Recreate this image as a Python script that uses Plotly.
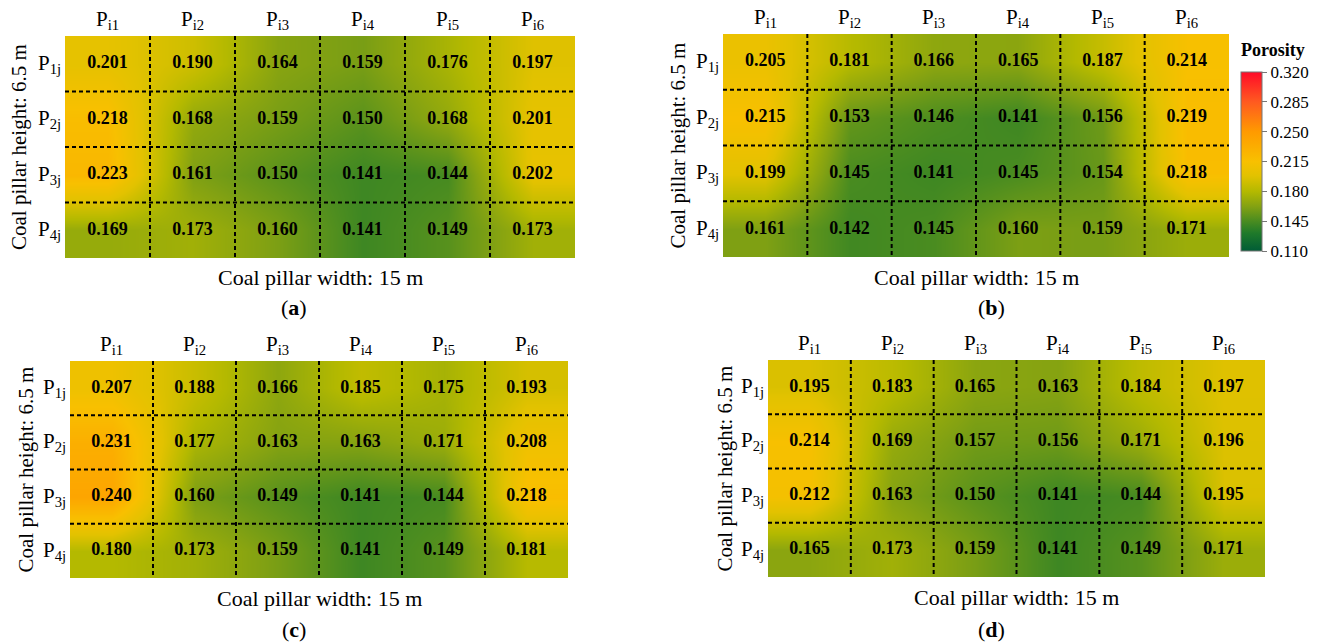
import plotly.graph_objects as go

W, H = 1320, 643

col_labels = ["P<sub>i1</sub>", "P<sub>i2</sub>", "P<sub>i3</sub>", "P<sub>i4</sub>", "P<sub>i5</sub>", "P<sub>i6</sub>"]
row_labels = ["P<sub>1j</sub>", "P<sub>2j</sub>", "P<sub>3j</sub>", "P<sub>4j</sub>"]

poro_a = [[0.201, 0.190, 0.164, 0.159, 0.176, 0.197],
          [0.218, 0.168, 0.159, 0.150, 0.168, 0.201],
          [0.223, 0.161, 0.150, 0.141, 0.144, 0.202],
          [0.169, 0.173, 0.160, 0.141, 0.149, 0.173]]
poro_b = [[0.205, 0.181, 0.166, 0.165, 0.187, 0.214],
          [0.215, 0.153, 0.146, 0.141, 0.156, 0.219],
          [0.199, 0.145, 0.141, 0.145, 0.154, 0.218],
          [0.161, 0.142, 0.145, 0.160, 0.159, 0.171]]
poro_c = [[0.207, 0.188, 0.166, 0.185, 0.175, 0.193],
          [0.231, 0.177, 0.163, 0.163, 0.171, 0.208],
          [0.240, 0.160, 0.149, 0.141, 0.144, 0.218],
          [0.180, 0.173, 0.159, 0.141, 0.149, 0.181]]
poro_d = [[0.195, 0.183, 0.165, 0.163, 0.184, 0.197],
          [0.214, 0.169, 0.157, 0.156, 0.171, 0.196],
          [0.212, 0.163, 0.150, 0.141, 0.144, 0.195],
          [0.165, 0.173, 0.159, 0.141, 0.149, 0.171]]

cbar_ticks = [0.110, 0.145, 0.180, 0.215, 0.250, 0.285, 0.320]
panel_letters = ["a", "b", "c", "d"]
x_title = "Coal pillar width: 15 m"
y_title = "Coal pillar height: 6.5 m"
cbar_title = "Porosity"

# layout in pixels: (left, right, top, bottom)
panels = [
    dict(data=poro_a, box=(65, 575, 36, 258), ytx=19, xt_y=278, lab=(294, 307), rowx=63),
    dict(data=poro_b, box=(723, 1229, 34, 257), ytx=677, xt_y=277, lab=(992, 307), rowx=721),
    dict(data=poro_c, box=(70, 568, 361, 578), ytx=25, xt_y=598, lab=(294, 629), rowx=68),
    dict(data=poro_d, box=(768, 1265, 360, 577), ytx=724, xt_y=597, lab=(992, 629), rowx=766),
]

colorscale = [
    [0.0, '#005c36'], [0.1, '#1f7a2a'], [0.167, '#4a8c20'], [0.25, '#84a212'],
    [0.333, '#b4b900'], [0.42, '#e2c200'], [0.5, '#f8c000'], [0.667, '#ff9a00'],
    [0.833, '#ff5a20'], [1.0, '#ff0a28']
]

FONT = "Liberation Serif"
fig = go.Figure()
annotations = []
shapes = []

def px(x):
    return x / W

def py(y):
    return 1 - y / H

for i, p in enumerate(panels):
    n = "" if i == 0 else str(i + 1)
    xa, ya = "x" + n, "y" + n
    l, r, t, b = p["box"]
    z = p["data"]
    ncol = len(col_labels)
    nrow = len(row_labels)
    xs = list(range(ncol))
    ys = list(range(nrow))
    fig.add_trace(go.Heatmap(z=z, x=xs, y=ys, coloraxis="coloraxis", zsmooth="best",
                             xaxis=xa, yaxis=ya, hoverinfo="skip"))
    tx, ty, tt = [], [], []
    for rr in ys:
        for cc in xs:
            tx.append(cc)
            ty.append(rr)
            tt.append("<b>%.3f</b>" % z[rr][cc])
    fig.add_trace(go.Scatter(x=tx, y=ty, text=tt, mode="text", xaxis=xa, yaxis=ya,
                             textfont=dict(family=FONT, size=18, color="black"),
                             hoverinfo="skip", showlegend=False))
    lay_x = "xaxis" + n
    lay_y = "yaxis" + n
    fig.layout[lay_x] = dict(domain=[px(l), px(r)], range=[-0.5, ncol - 0.5], anchor=ya,
                             showgrid=False, zeroline=False, showticklabels=False, ticks="")
    fig.layout[lay_y] = dict(domain=[py(b), py(t)], range=[nrow - 0.5, -0.5], anchor=xa,
                             showgrid=False, zeroline=False, showticklabels=False, ticks="")
    # dashed grid lines
    for k in range(1, ncol):
        shapes.append(dict(type="line", xref=xa, yref=ya, x0=k - 0.5, x1=k - 0.5,
                           y0=-0.5, y1=nrow - 0.5, line=dict(color="black", width=2, dash="4px,3px")))
    for k in range(1, nrow):
        shapes.append(dict(type="line", xref=xa, yref=ya, y0=k - 0.5, y1=k - 0.5,
                           x0=-0.5, x1=ncol - 0.5, line=dict(color="black", width=2, dash="4px,3px")))
    # column labels
    for cc, lab in enumerate(col_labels):
        annotations.append(dict(x=cc, y=py(t - 1), xref=xa, yref="paper", text=lab,
                                showarrow=False, xanchor="center", yanchor="bottom",
                                font=dict(family=FONT, size=21, color="black")))
    # row labels
    for rr, lab in enumerate(row_labels):
        annotations.append(dict(x=px(p["rowx"]), y=rr, xref="paper", yref=ya, text=lab,
                                showarrow=False, xanchor="right", yanchor="middle",
                                font=dict(family=FONT, size=21, color="black")))
    # axis titles
    annotations.append(dict(x=px((l + r) / 2), y=py(p["xt_y"]), xref="paper", yref="paper",
                            text=x_title, showarrow=False, xanchor="center", yanchor="middle",
                            font=dict(family=FONT, size=22, color="black")))
    annotations.append(dict(x=px(p["ytx"]), y=py((t + b) / 2), xref="paper", yref="paper",
                            text=y_title, showarrow=False, textangle=-90, xanchor="center",
                            yanchor="middle", font=dict(family=FONT, size=21, color="black")))
    annotations.append(dict(x=px(p["lab"][0]), y=py(p["lab"][1]), xref="paper", yref="paper",
                            text="(<b>%s</b>)" % panel_letters[i], showarrow=False,
                            xanchor="center", yanchor="middle",
                            font=dict(family=FONT, size=22, color="black")))

annotations.append(dict(x=px(1273), y=py(50), xref="paper", yref="paper",
                        text="<b>%s</b>" % cbar_title, showarrow=False, xanchor="center",
                        yanchor="middle", font=dict(family=FONT, size=18, color="black")))

fig.update_layout(
    width=W, height=H, margin=dict(l=0, r=0, t=0, b=0),
    paper_bgcolor="white", plot_bgcolor="white", showlegend=False,
    annotations=annotations, shapes=shapes,
    coloraxis=dict(
        colorscale=colorscale, cmin=0.110, cmax=0.320,
        colorbar=dict(
            x=px(1241), xanchor="left", y=py((72 + 251) / 2), yanchor="middle",
            len=(251 - 72) / H, lenmode="fraction", thickness=21, thicknessmode="pixels",
            xpad=0, ypad=0, outlinewidth=1, outlinecolor="#777777",
            tickvals=cbar_ticks, ticktext=["%.3f" % v for v in cbar_ticks],
            ticks="outside", ticklen=5, tickcolor="#777777",
            tickfont=dict(family=FONT, size=17, color="black"),
        ),
    ),
)

fig.write_html("out.html")
